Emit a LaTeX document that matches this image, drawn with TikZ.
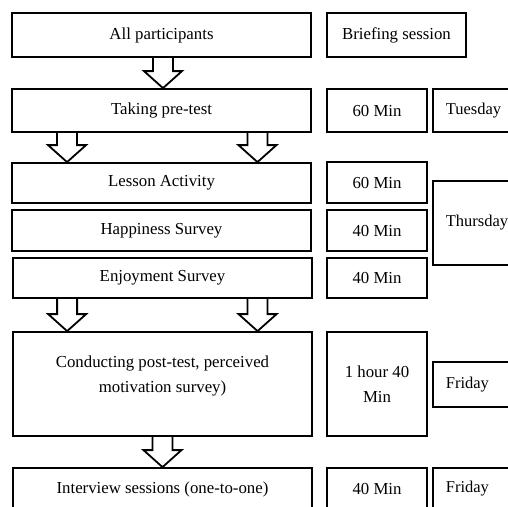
\documentclass[tikz,border=0pt]{standalone}
\usepackage{fontspec}
\setmainfont{Liberation Serif}
\usetikzlibrary{calc}
\tikzset{
  txt/.style={inner sep=0pt, align=center, font=\fontsize{16.8}{24.5}\selectfont},
  box/.style={txt, draw, line width=1.8pt},
  daybox/.style={draw, line width=1.8pt, inner xsep=13pt, inner ysep=0pt,
    text width=70pt, align=left, font=\fontsize{16.5}{24.5}\selectfont},
  barrow/.style={draw, line width=1.8pt, line join=miter},
}
\newcommand\blockarr[2]{%
  \path[barrow] let \p1=(#1), \p2=(#2) in
    (\x1-10pt,\y1) -- (\x1-10pt,\y2+17pt) -- (\x1-19pt,\y2+17pt) -- (\x1,\y2)
    -- (\x1+19pt,\y2+17pt) -- (\x1+10pt,\y2+17pt) -- (\x1+10pt,\y1);}
\begin{document}
\begin{tikzpicture}[x=1pt,y=-1pt]
\useasboundingbox (0,0) rectangle (508,506);
\clip (0,0) rectangle (508,506);
% left column
\node[box, minimum width=299pt, minimum height=44pt] (all) at (161.5,35) {All participants};
\node[box, minimum width=299pt, minimum height=43pt] (pre) at (161.5,110.5) {Taking pre-test};
\node[box, minimum width=299pt, minimum height=40pt] (lesson) at (161.5,183) {Lesson Activity};
\node[box, minimum width=299pt, minimum height=41pt] (happy) at (161.5,230.5) {Happiness Survey};
\node[box, minimum width=299pt, minimum height=40pt] (enjoy) at (162.5,278) {Enjoyment Survey};
\node[box, minimum width=299pt, minimum height=104pt] (cond) at (162.5,384) {};
\node[txt] (condt) at (162.5,376) {Conducting post-test, perceived\\motivation survey)};
\node[box, minimum width=299pt, minimum height=42pt] (int) at (162.5,489) {Interview sessions (one-to-one)};
% middle column
\node[box, minimum width=139pt, minimum height=44pt] (brief) at (396.5,35) {Briefing session};
\node[box, minimum width=100pt, minimum height=43pt] (pmin) at (377,110.5) {60 Min};
\node[box, minimum width=100pt, minimum height=41pt] (lmin) at (377,182.5) {60 Min};
\node[box, minimum width=100pt, minimum height=41pt] (hmin) at (377,230.5) {40 Min};
\node[box, minimum width=100pt, minimum height=40pt] (emin) at (377,278) {40 Min};
\node[box, minimum width=100pt, minimum height=104pt] (cmin) at (377,384) {1 hour 40\\Min};
\node[box, minimum width=100pt, minimum height=42pt] (imin) at (377,489) {40 Min};
% right column
\node[daybox, minimum height=43pt, anchor=west] (tue) at (432,110.5) {Tuesday};
\node[daybox, minimum height=84pt, anchor=west] (thu) at (432,223) {Thursday};
\node[daybox, minimum height=45pt, anchor=west] (fri1) at (432,384.5) {Friday};
\node[daybox, minimum height=42pt, anchor=west] (fri2) at (432,489) {Friday};
% block arrows
\coordinate (p1) at ($(pre.south west)!0.186!(pre.south east)$);
\coordinate (p2) at ($(pre.south west)!0.819!(pre.south east)$);
\coordinate (l1) at ($(lesson.north west)!0.186!(lesson.north east)$);
\coordinate (l2) at ($(lesson.north west)!0.819!(lesson.north east)$);
\coordinate (e1) at ($(enjoy.south west)!0.183!(enjoy.south east)$);
\coordinate (e2) at ($(enjoy.south west)!0.816!(enjoy.south east)$);
\coordinate (c1) at ($(cond.north west)!0.183!(cond.north east)$);
\coordinate (c2) at ($(cond.north west)!0.816!(cond.north east)$);
\blockarr{$(all.south)+(1.5,0)$}{$(pre.north)+(1.5,0)$}
\blockarr{p1}{l1}
\blockarr{p2}{l2}
\blockarr{e1}{c1}
\blockarr{e2}{c2}
\blockarr{cond.south}{int.north}
\end{tikzpicture}
\end{document}
